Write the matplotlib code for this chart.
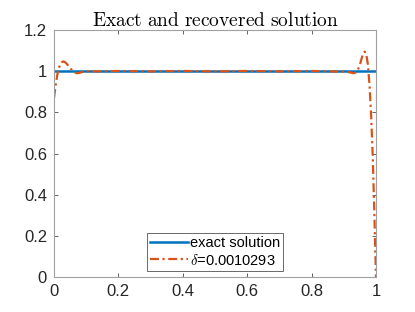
import numpy as np
import matplotlib.pyplot as plt

plt.rcParams['font.family'] = ['Liberation Sans', 'DejaVu Sans']
plt.rcParams['mathtext.fontset'] = 'cm'

# exact solution
x_exact = [0.0, 1.0]
y_exact = [1.0, 1.0]

# recovered solution
x_rec = [0.0, 0.005, 0.01, 0.015, 0.02, 0.025, 0.03, 0.035, 0.04, 0.05,
         0.06, 0.07, 0.08, 0.09, 0.1, 0.15, 0.2, 0.3, 0.4, 0.5, 0.6, 0.7,
         0.8, 0.85, 0.9, 0.92, 0.93, 0.94, 0.95, 0.955, 0.96, 0.965, 0.97,
         0.975, 0.98, 0.985, 0.99, 0.995, 1.0]
y_rec = [0.87, 0.93, 0.98, 1.015, 1.035, 1.045, 1.047, 1.043, 1.035, 1.015,
         0.998, 0.99, 0.992, 0.997, 1.0, 0.999, 1.001, 0.999, 1.001, 0.999, 1.001, 0.999,
         1.001, 0.999, 0.998, 0.994, 0.99, 0.995, 1.03, 1.06, 1.085, 1.095, 1.08,
         1.03, 0.93, 0.78, 0.58, 0.3, 0.0]

fig = plt.figure(figsize=(4.15, 3.12), dpi=100)
ax = fig.add_axes([54 / 415, 35 / 312, 322 / 415, 247 / 312])

ax.plot(x_exact, y_exact, color='#0072BD', lw=1.8, label='exact solution')
ax.plot(x_rec, y_rec, color='#D95319', lw=1.6, ls='-.', dashes=(4, 1.6, 1, 1.6),
        label=r'$\delta$=0.0010293')

ax.set_xlim(0, 1)
ax.set_ylim(0, 1.2)
ax.set_xticks([0, 0.2, 0.4, 0.6, 0.8, 1])
ax.set_xticklabels(['0', '0.2', '0.4', '0.6', '0.8', '1'])
ax.set_yticks([0, 0.2, 0.4, 0.6, 0.8, 1, 1.2])
ax.set_yticklabels(['0', '0.2', '0.4', '0.6', '0.8', '1', '1.2'])
ax.tick_params(direction='in', top=True, right=True, labelsize=12,
               color='#262626', length=3, width=0.5, labelcolor='#262626', pad=5)
for s in ax.spines.values():
    s.set_color('#a0a0a0')
    s.set_linewidth(0.8)

ax.set_title(r'$\mathrm{Exact\ and\ recovered\ solution}$', fontsize=14, pad=3)

leg = ax.legend(loc='lower center', fontsize=10.5, frameon=True, fancybox=False,
                edgecolor='#262626', handlelength=2.6, handletextpad=0.1,
                borderpad=0.25, labelspacing=0.15, borderaxespad=0.4)
leg.get_frame().set_linewidth(0.6)

fig.savefig('out.png', dpi=100)
